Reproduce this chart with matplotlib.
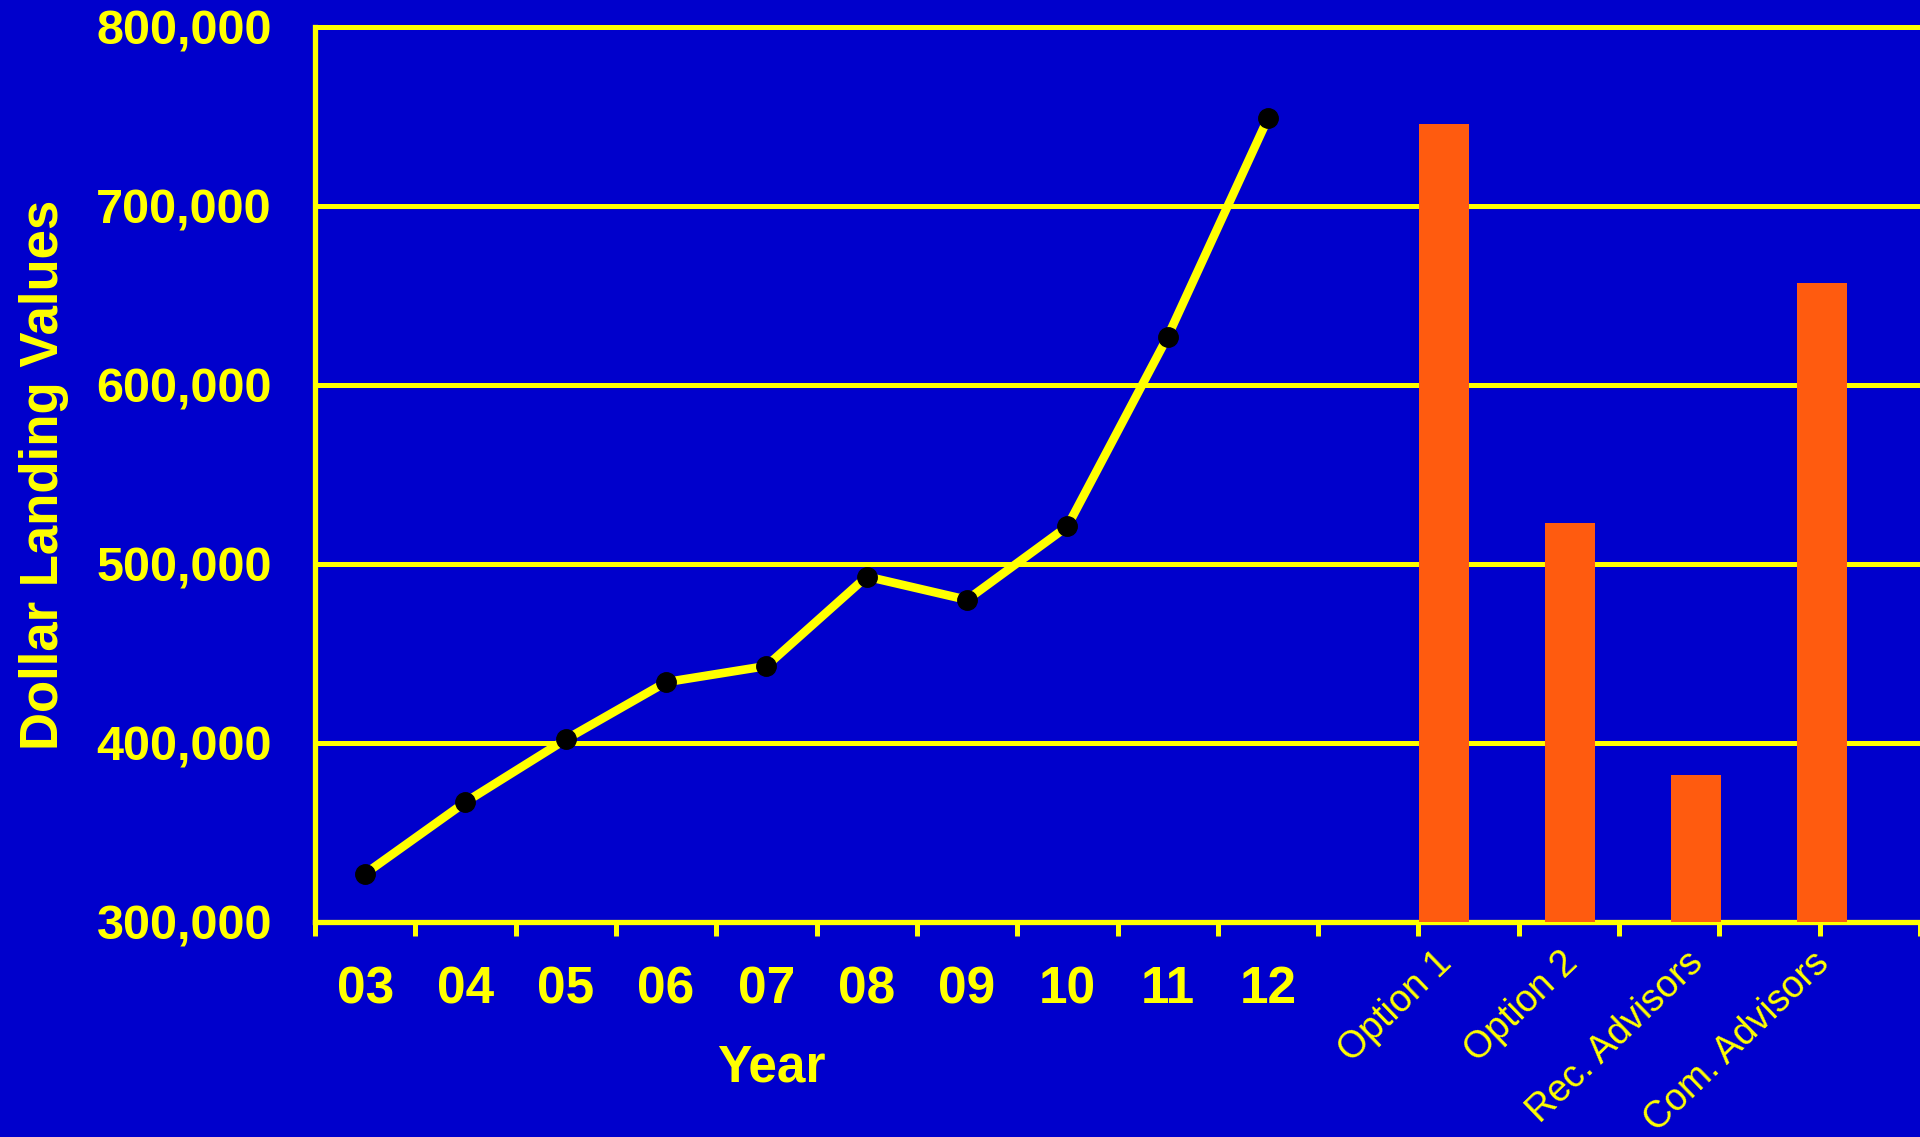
import matplotlib
matplotlib.use('Agg')
import matplotlib.pyplot as plt
import matplotlib.transforms as mtransforms
import numpy as np

# ---- data ----
years = ['03', '04', '05', '06', '07', '08', '09', '10', '11', '12']
landing_values = [327000, 367000, 402000, 434000, 443000, 493000, 480000, 521000, 627000, 749000]
options = ['Option 1', 'Option 2', 'Rec. Advisors', 'Com. Advisors']
option_values = [746000, 523000, 382000, 657000]
y_ticks = [300000, 400000, 500000, 600000, 700000, 800000]
y_tick_labels = ['300,000', '400,000', '500,000', '600,000', '700,000', '800,000']

BG = '#0000CC'
YEL = '#FFFF00'
ORANGE = '#FF5B0F'
FONT = 'Liberation Sans'

plt.rcParams['font.family'] = [FONT, 'DejaVu Sans']

W, H = 1920, 1137
fig = plt.figure(figsize=(W / 100, H / 100), dpi=100, facecolor=BG)
ax = fig.add_axes([315 / W, 215 / H, (W - 315) / W, 895 / H])
ax.set_facecolor(BG)

n_slots = 16
ax.set_xlim(0, n_slots)
ax.set_ylim(y_ticks[0], y_ticks[-1])

# grid
ax.set_yticks(y_ticks)
ax.set_yticklabels(y_tick_labels, color=YEL, fontsize=35, fontweight='bold')
ax.tick_params(axis='y', length=0, pad=31)
ax.yaxis.grid(True, color=YEL, lw=3.6, zorder=1)
ax.set_axisbelow(True)

for s in ['left', 'bottom', 'top']:
    ax.spines[s].set_color(YEL)
ax.spines['left'].set_linewidth(3.8)
ax.spines['bottom'].set_linewidth(3.8)
ax.spines['top'].set_linewidth(3.6)
ax.spines['right'].set_visible(False)

# x ticks: marks at slot boundaries, year labels at slot centers
ax.set_xticks(np.arange(n_slots + 1))
ax.set_xticklabels([])
ax.tick_params(axis='x', which='major', direction='out', length=10, width=3.6, color=YEL)
x_line = np.arange(len(years)) + 0.5
ax.set_xticks(x_line, minor=True)
ax.set_xticklabels(years, minor=True, color=YEL, fontsize=37, fontweight='bold')
ax.tick_params(axis='x', which='minor', length=0, pad=31)

# line
ax.plot(x_line, landing_values, color=YEL, lw=6.2, marker='o', ms=14,
        mfc='black', mec='black', zorder=4, clip_on=False)

# bars on their own category axis
ax2 = ax.twiny()
xb = np.arange(len(options))
ax2.set_xlim(-8.955, 3.78)
ax2.bar(xb, option_values, width=0.397, color=ORANGE, zorder=3)
for s in ax2.spines.values():
    s.set_visible(False)
ax2.set_xticks([])

trans = mtransforms.blended_transform_factory(ax2.transData, ax.transAxes) + \
    mtransforms.ScaledTranslation(-10 / 100, -23 / 100, fig.dpi_scale_trans)
for xi, lab in zip(xb, options):
    ax2.text(xi, 0, lab, transform=trans, rotation=44, rotation_mode='anchor',
             ha='right', va='top', color=YEL, fontsize=27, clip_on=False)

# axis titles
fig.text(771 / W, 1 - 1068 / H, 'Year', ha='center', va='center', color=YEL,
         fontsize=37, fontweight='bold')
fig.text(44 / W, 1 - 475 / H, 'Dollar Landing Values', ha='center', va='center',
         rotation=90, color=YEL, fontsize=38, fontweight='bold')

fig.savefig('out.png', dpi=100, facecolor=BG)
